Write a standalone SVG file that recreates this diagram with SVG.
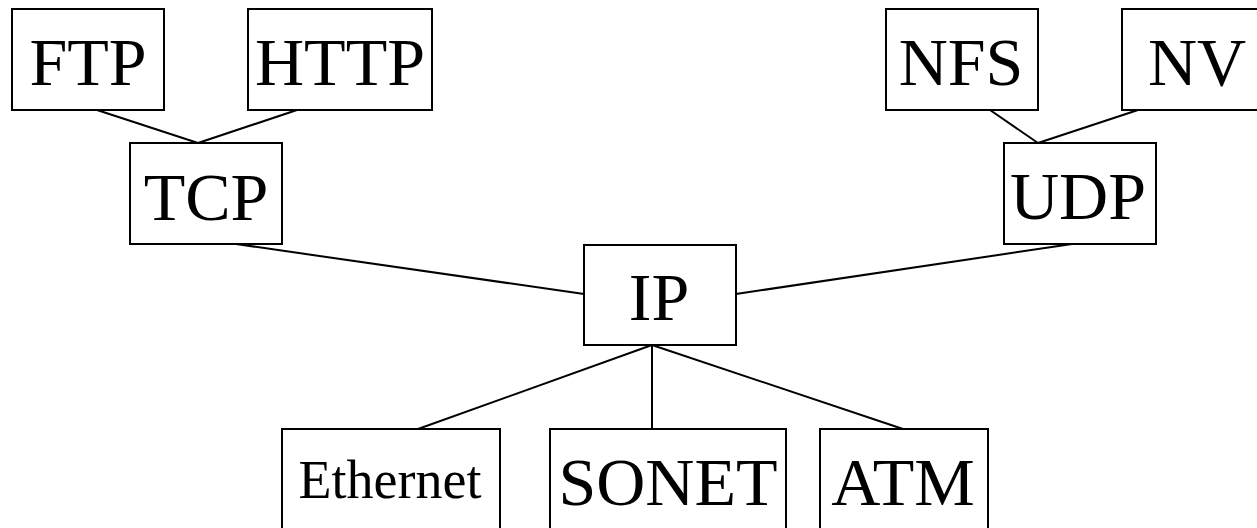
<svg xmlns="http://www.w3.org/2000/svg" width="1257" height="528" viewBox="0 0 1257 528">
<style>
.box{fill:#fff;stroke:#000;stroke-width:2}
.lbl{font-family:"Liberation Serif","Times New Roman",serif;font-size:68px;fill:#000;text-anchor:middle}
.sm{font-size:54px}
.edge{stroke:#000;stroke-width:2;fill:none}
</style>
<rect width="1257" height="528" fill="#fff"/>
<g id="connectors">
<line class="edge" x1="97" y1="110" x2="198" y2="143"/>
<line class="edge" x1="297" y1="110" x2="198" y2="143"/>
<line class="edge" x1="990" y1="110" x2="1038" y2="143"/>
<line class="edge" x1="1138" y1="110" x2="1038" y2="143"/>
<line class="edge" x1="236" y1="244" x2="584" y2="294"/>
<line class="edge" x1="1072" y1="244" x2="736" y2="294"/>
<line class="edge" x1="652" y1="345" x2="418" y2="429"/>
<line class="edge" x1="652" y1="345" x2="652" y2="429"/>
<line class="edge" x1="652" y1="345" x2="903" y2="429"/>
</g>
<g id="ftp"><rect class="box" x="12" y="9" width="152" height="101"/><text class="lbl" x="88" y="85">FTP</text></g>
<g id="http"><rect class="box" x="248" y="9" width="184" height="101"/><text class="lbl" x="340" y="85">HTTP</text></g>
<g id="nfs"><rect class="box" x="886" y="9" width="152" height="101"/><text class="lbl" x="961" y="85">NFS</text></g>
<g id="nv"><rect class="box" x="1122" y="9" width="152" height="101"/><text class="lbl" x="1197" y="85">NV</text></g>
<g id="tcp"><rect class="box" x="130" y="143" width="152" height="101"/><text class="lbl" x="206" y="220">TCP</text></g>
<g id="udp"><rect class="box" x="1004" y="143" width="152" height="101"/><text class="lbl" x="1078" y="219">UDP</text></g>
<g id="ip"><rect class="box" x="584" y="245" width="152" height="100"/><text class="lbl" x="659" y="320">IP</text></g>
<g id="ethernet"><rect class="box" x="282" y="429" width="218" height="102"/><text class="lbl sm" x="390" y="498">Ethernet</text></g>
<g id="sonet"><rect class="box" x="550" y="429" width="236" height="102"/><text class="lbl" x="668" y="505">SONET</text></g>
<g id="atm"><rect class="box" x="820" y="429" width="168" height="102"/><text class="lbl" x="903" y="505">ATM</text></g>
</svg>
